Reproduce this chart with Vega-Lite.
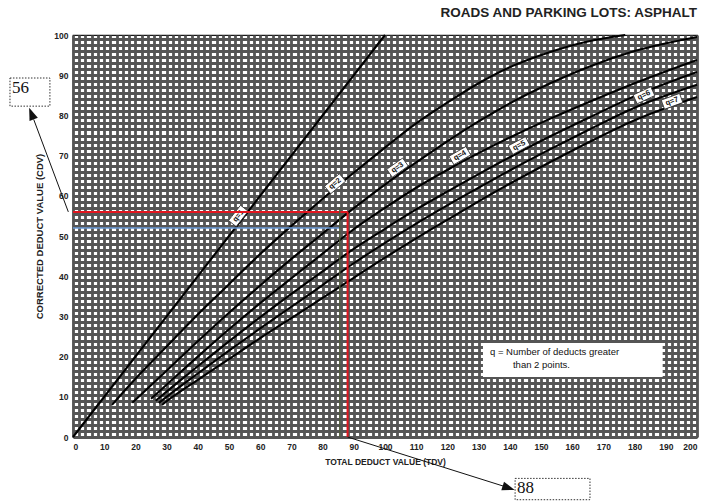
{
  "$schema": "https://vega.github.io/schema/vega-lite/v6.json",
  "width": 624,
  "height": 402,
  "autosize": {"type": "none"},
  "padding": {"left": 73, "top": 35, "right": 4, "bottom": 64},
  "background": "white",
  "config": {"view": {"stroke": "#1a1a1a", "strokeWidth": 1.2}, "font": "Liberation Sans"},
  "title": {"text": "ROADS AND PARKING LOTS:  ASPHALT", "anchor": "end", "frame": "group", "fontSize": 13.5, "fontWeight": "bold", "color": "#222", "offset": 11, "font": "Liberation Sans"},
  "datasets": {
    "curves": [
      {"q": "q=1", "tdv": 0, "cdv": 0}, {"q": "q=1", "tdv": 100, "cdv": 100},
      {"q": "q=2", "tdv": 12.5, "cdv": 8}, {"q": "q=2", "tdv": 20, "cdv": 14.5}, {"q": "q=2", "tdv": 30, "cdv": 22.5}, {"q": "q=2", "tdv": 40, "cdv": 30.5}, {"q": "q=2", "tdv": 50, "cdv": 38}, {"q": "q=2", "tdv": 60, "cdv": 45.5}, {"q": "q=2", "tdv": 74.4, "cdv": 55.5}, {"q": "q=2", "tdv": 88.8, "cdv": 65}, {"q": "q=2", "tdv": 100, "cdv": 72}, {"q": "q=2", "tdv": 110, "cdv": 78}, {"q": "q=2", "tdv": 120.8, "cdv": 83.6}, {"q": "q=2", "tdv": 130, "cdv": 88}, {"q": "q=2", "tdv": 140, "cdv": 92}, {"q": "q=2", "tdv": 153, "cdv": 95.8}, {"q": "q=2", "tdv": 165, "cdv": 98.4}, {"q": "q=2", "tdv": 177, "cdv": 100},
      {"q": "q=3", "tdv": 19, "cdv": 8.5}, {"q": "q=3", "tdv": 30, "cdv": 16.5}, {"q": "q=3", "tdv": 40, "cdv": 23.8}, {"q": "q=3", "tdv": 50, "cdv": 30.9}, {"q": "q=3", "tdv": 60, "cdv": 37.7}, {"q": "q=3", "tdv": 70, "cdv": 44.3}, {"q": "q=3", "tdv": 80, "cdv": 50.6}, {"q": "q=3", "tdv": 88, "cdv": 55.7}, {"q": "q=3", "tdv": 100, "cdv": 62.8}, {"q": "q=3", "tdv": 110, "cdv": 68.3}, {"q": "q=3", "tdv": 120.8, "cdv": 74}, {"q": "q=3", "tdv": 130, "cdv": 78.5}, {"q": "q=3", "tdv": 140, "cdv": 83}, {"q": "q=3", "tdv": 153, "cdv": 88}, {"q": "q=3", "tdv": 165, "cdv": 92}, {"q": "q=3", "tdv": 180, "cdv": 96}, {"q": "q=3", "tdv": 200, "cdv": 99.5},
      {"q": "q=4", "tdv": 25, "cdv": 9.5}, {"q": "q=4", "tdv": 30, "cdv": 13}, {"q": "q=4", "tdv": 40, "cdv": 20}, {"q": "q=4", "tdv": 50, "cdv": 26.8}, {"q": "q=4", "tdv": 60, "cdv": 33.3}, {"q": "q=4", "tdv": 70, "cdv": 39.5}, {"q": "q=4", "tdv": 80, "cdv": 45.6}, {"q": "q=4", "tdv": 88.8, "cdv": 51}, {"q": "q=4", "tdv": 100, "cdv": 57}, {"q": "q=4", "tdv": 110, "cdv": 62}, {"q": "q=4", "tdv": 120.8, "cdv": 66.8}, {"q": "q=4", "tdv": 130, "cdv": 70.6}, {"q": "q=4", "tdv": 140, "cdv": 74.5}, {"q": "q=4", "tdv": 153, "cdv": 79.2}, {"q": "q=4", "tdv": 165, "cdv": 83.2}, {"q": "q=4", "tdv": 180, "cdv": 88}, {"q": "q=4", "tdv": 200, "cdv": 93.8},
      {"q": "q=5", "tdv": 26.5, "cdv": 9}, {"q": "q=5", "tdv": 30, "cdv": 11.3}, {"q": "q=5", "tdv": 40, "cdv": 17.6}, {"q": "q=5", "tdv": 50, "cdv": 23.8}, {"q": "q=5", "tdv": 60, "cdv": 29.8}, {"q": "q=5", "tdv": 70, "cdv": 35.6}, {"q": "q=5", "tdv": 80, "cdv": 41.2}, {"q": "q=5", "tdv": 88.8, "cdv": 46.2}, {"q": "q=5", "tdv": 100, "cdv": 51.8}, {"q": "q=5", "tdv": 110, "cdv": 56.6}, {"q": "q=5", "tdv": 120.8, "cdv": 61.4}, {"q": "q=5", "tdv": 130, "cdv": 65.4}, {"q": "q=5", "tdv": 140, "cdv": 69.6}, {"q": "q=5", "tdv": 153, "cdv": 74.8}, {"q": "q=5", "tdv": 165, "cdv": 79.3}, {"q": "q=5", "tdv": 180, "cdv": 84.8}, {"q": "q=5", "tdv": 200, "cdv": 90.8},
      {"q": "q=6", "tdv": 27.5, "cdv": 8.5}, {"q": "q=6", "tdv": 30, "cdv": 10}, {"q": "q=6", "tdv": 40, "cdv": 15.8}, {"q": "q=6", "tdv": 50, "cdv": 21.5}, {"q": "q=6", "tdv": 60, "cdv": 27}, {"q": "q=6", "tdv": 70, "cdv": 32.4}, {"q": "q=6", "tdv": 80, "cdv": 37.8}, {"q": "q=6", "tdv": 88.8, "cdv": 42.6}, {"q": "q=6", "tdv": 100, "cdv": 48.3}, {"q": "q=6", "tdv": 110, "cdv": 53.1}, {"q": "q=6", "tdv": 120.8, "cdv": 58}, {"q": "q=6", "tdv": 130, "cdv": 62}, {"q": "q=6", "tdv": 140, "cdv": 66.3}, {"q": "q=6", "tdv": 153, "cdv": 71.6}, {"q": "q=6", "tdv": 165, "cdv": 76.3}, {"q": "q=6", "tdv": 180, "cdv": 81.9}, {"q": "q=6", "tdv": 200, "cdv": 87.6},
      {"q": "q=7", "tdv": 28.5, "cdv": 8}, {"q": "q=7", "tdv": 30, "cdv": 8.9}, {"q": "q=7", "tdv": 40, "cdv": 14.2}, {"q": "q=7", "tdv": 50, "cdv": 19.4}, {"q": "q=7", "tdv": 60, "cdv": 24.6}, {"q": "q=7", "tdv": 70, "cdv": 29.6}, {"q": "q=7", "tdv": 80, "cdv": 34.6}, {"q": "q=7", "tdv": 88.8, "cdv": 39}, {"q": "q=7", "tdv": 100, "cdv": 44.6}, {"q": "q=7", "tdv": 110, "cdv": 49.4}, {"q": "q=7", "tdv": 120.8, "cdv": 54.4}, {"q": "q=7", "tdv": 130, "cdv": 58.6}, {"q": "q=7", "tdv": 140, "cdv": 63}, {"q": "q=7", "tdv": 153, "cdv": 68.4}, {"q": "q=7", "tdv": 165, "cdv": 73.2}, {"q": "q=7", "tdv": 180, "cdv": 78.8}, {"q": "q=7", "tdv": 200, "cdv": 84.6}
    ],
    "labels": [
      {"q": "q=1", "n": 1, "tdv": 53, "cdv": 55},
      {"q": "q=2", "n": 2, "tdv": 84, "cdv": 63},
      {"q": "q=3", "n": 3, "tdv": 104, "cdv": 67},
      {"q": "q=4", "n": 4, "tdv": 124, "cdv": 70},
      {"q": "q=5", "n": 5, "tdv": 143, "cdv": 72.5},
      {"q": "q=6", "n": 6, "tdv": 183, "cdv": 85},
      {"q": "q=7", "n": 7, "tdv": 192, "cdv": 83.5}
    ],
    "readlines": [
      {"line": "red", "tdv": 0, "tdv2": 88, "cdv": 56, "cdv2": 56},
      {"line": "red", "tdv": 88, "tdv2": 88, "cdv": 56, "cdv2": 0},
      {"line": "blue", "tdv": 0, "tdv2": 85.5, "cdv": 52, "cdv2": 52},
      {"line": "thin", "tdv": 85.5, "tdv2": 85.5, "cdv": 0, "cdv2": 57},
      {"line": "arrow", "tdv": -1.5, "tdv2": -12.6, "cdv": 56, "cdv2": 79},
      {"line": "arrow", "tdv": 88, "tdv2": 139.5, "cdv": 0, "cdv2": -12.6}
    ],
    "heads": [
      {"end": "cdv", "tdv": -13.2, "cdv": 80.2},
      {"end": "tdv", "tdv": 139.3, "cdv": -12.6}
    ],
    "boxes": [
      {"value": "56", "tdv": -20.2, "tdv2": -7.4, "cdv": 89.3, "cdv2": 82.3},
      {"value": "88", "tdv": 141.7, "tdv2": 165.7, "cdv": -10.3, "cdv2": -15.6}
    ],
    "note": [{"line1": "q = Number of deducts greater", "line2": "than 2 points.", "tdv": 131.4, "tdv2": 189, "cdv": 23.4, "cdv2": 14.9}]
  },
  "resolve": {"axis": {"x": "independent", "y": "independent"}},
  "layer": [
    {
      "data": {"name": "curves"},
      "mark": {"type": "point", "opacity": 0},
      "encoding": {
        "x": {"field": "tdv", "type": "quantitative", "scale": {"domain": [0, 200], "nice": false, "zero": false},
          "axis": {"values": [0,2,4,6,8,10,12,14,16,18,20,22,24,26,28,30,32,34,36,38,40,42,44,46,48,50,52,54,56,58,60,62,64,66,68,70,72,74,76,78,80,82,84,86,88,90,92,94,96,98,100,102,104,106,108,110,112,114,116,118,120,122,124,126,128,130,132,134,136,138,140,142,144,146,148,150,152,154,156,158,160,162,164,166,168,170,172,174,176,178,180,182,184,186,188,190,192,194,196,198,200],
            "grid": true, "gridColor": "#555555", "gridWidth": 2.8, "ticks": false, "domain": false,
            "labelExpr": "datum.value % 10 === 0 ? datum.label : ''", "labelOverlap": false,
            "labelFontSize": 8.5, "labelFontWeight": "bold", "labelColor": "#222", "labelPadding": 5, "labelFont": "Liberation Sans",
            "title": "TOTAL DEDUCT VALUE (TDV)", "titleFontSize": 8.5, "titleFontWeight": "bold", "titleColor": "#222", "titlePadding": 7, "titleFont": "Liberation Sans"}},
        "y": {"field": "cdv", "type": "quantitative", "scale": {"domain": [0, 100], "nice": false, "zero": false},
          "axis": {"orient": "right", "values": [0,1.5,3,4.5,6,7.5,9,10.5,12,13.5,15,16.5,18,19.5,21,22.5,24,25.5,27,28.5,30,31.5,33,34.5,36,37.5,39,40.5,42,43.5,45,46.5,48,49.5,51,52.5,54,55.5,57,58.5,60,61.5,63,64.5,66,67.5,69,70.5,72,73.5,75,76.5,78,79.5,81,82.5,84,85.5,87,88.5,90,91.5,93,94.5,96,97.5,99],
            "grid": true, "gridColor": "#555555", "gridWidth": 2.8, "ticks": false, "domain": false, "labels": false, "title": null}}
      }
    },
    {
      "data": {"name": "curves"},
      "mark": {"type": "point", "opacity": 0},
      "encoding": {
        "x": {"field": "tdv", "type": "quantitative", "scale": {"domain": [0, 200], "nice": false, "zero": false}, "axis": null},
        "y": {"field": "cdv", "type": "quantitative", "scale": {"domain": [0, 100], "nice": false, "zero": false},
          "axis": {"orient": "left", "values": [0,10,20,30,40,50,60,70,80,90,100], "grid": false, "ticks": false, "domain": false,
            "labelFontSize": 8.5, "labelFontWeight": "bold", "labelColor": "#222", "labelPadding": 5, "labelFont": "Liberation Sans",
            "title": "CORRECTED DEDUCT VALUE (CDV)", "titleFontSize": 9.5, "titleFontWeight": "bold", "titleColor": "#222", "titlePadding": 9, "titleFont": "Liberation Sans"}}
      }
    },
    {
      "data": {"name": "curves"},
      "mark": {"type": "line", "color": "#000", "strokeWidth": 2.1, "interpolate": "monotone"},
      "encoding": {
        "x": {"field": "tdv", "type": "quantitative", "scale": {"domain": [0, 200], "nice": false, "zero": false}, "axis": null},
        "y": {"field": "cdv", "type": "quantitative", "scale": {"domain": [0, 100], "nice": false, "zero": false}, "axis": null},
        "detail": {"field": "q", "type": "nominal"}
      }
    },
    {
      "data": {"name": "labels"},
      "mark": {"type": "point", "shape": "M-1,-0.5L1,-0.5L1,0.5L-1,0.5Z", "filled": true, "fill": "white", "stroke": "#333", "strokeWidth": 0.8, "size": 380, "opacity": 1},
      "encoding": {
        "x": {"field": "tdv", "type": "quantitative", "scale": {"domain": [0, 200], "nice": false, "zero": false}, "axis": null},
        "y": {"field": "cdv", "type": "quantitative", "scale": {"domain": [0, 100], "nice": false, "zero": false}, "axis": null},
        "angle": {"field": "n", "type": "quantitative", "scale": {"domain": [1,2,3,4,5,6,7], "range": [308,320,325,330,332,335,340]}, "legend": null}
      }
    },
    {
      "data": {"name": "labels"},
      "mark": {"type": "text", "fontSize": 7.5, "fontWeight": "bold", "color": "#111", "font": "Liberation Sans", "baseline": "middle", "align": "center"},
      "encoding": {
        "x": {"field": "tdv", "type": "quantitative", "scale": {"domain": [0, 200], "nice": false, "zero": false}, "axis": null},
        "y": {"field": "cdv", "type": "quantitative", "scale": {"domain": [0, 100], "nice": false, "zero": false}, "axis": null},
        "text": {"field": "q"},
        "angle": {"field": "n", "type": "quantitative", "scale": {"domain": [1,2,3,4,5,6,7], "range": [308,320,325,330,332,335,340]}, "legend": null}
      }
    },
    {
      "data": {"name": "readlines"},
      "mark": {"type": "rule"},
      "encoding": {
        "x": {"field": "tdv", "type": "quantitative", "scale": {"domain": [0, 200], "nice": false, "zero": false}, "axis": null},
        "x2": {"field": "tdv2"},
        "y": {"field": "cdv", "type": "quantitative", "scale": {"domain": [0, 100], "nice": false, "zero": false}, "axis": null},
        "y2": {"field": "cdv2"},
        "color": {"field": "line", "type": "nominal", "scale": {"domain": ["red", "blue", "thin", "arrow"], "range": ["#e3161f", "#6a9ad6", "#4f5a3c", "#111111"]}, "legend": null},
        "strokeWidth": {"field": "line", "type": "nominal", "scale": {"domain": ["red", "blue", "thin", "arrow"], "range": [2, 1, 1, 1.8]}, "legend": null}
      }
    },
    {
      "data": {"name": "heads"},
      "transform": [{"filter": "datum.end === 'cdv'"}],
      "mark": {"type": "point", "shape": "M0,-1L0.6,0.7L-0.6,0.7Z", "filled": true, "color": "#111", "opacity": 1, "size": 220, "angle": 339},
      "encoding": {
        "x": {"field": "tdv", "type": "quantitative", "scale": {"domain": [0, 200], "nice": false, "zero": false}, "axis": null},
        "y": {"field": "cdv", "type": "quantitative", "scale": {"domain": [0, 100], "nice": false, "zero": false}, "axis": null}
      }
    },
    {
      "data": {"name": "heads"},
      "transform": [{"filter": "datum.end === 'tdv'"}],
      "mark": {"type": "point", "shape": "M0,-1L0.6,0.7L-0.6,0.7Z", "filled": true, "color": "#111", "opacity": 1, "size": 220, "angle": 107.5},
      "encoding": {
        "x": {"field": "tdv", "type": "quantitative", "scale": {"domain": [0, 200], "nice": false, "zero": false}, "axis": null},
        "y": {"field": "cdv", "type": "quantitative", "scale": {"domain": [0, 100], "nice": false, "zero": false}, "axis": null}
      }
    },
    {
      "data": {"name": "boxes"},
      "mark": {"type": "rect", "fill": "white", "stroke": "#333", "strokeWidth": 1, "strokeDash": [1.5, 1.5]},
      "encoding": {
        "x": {"field": "tdv", "type": "quantitative", "scale": {"domain": [0, 200], "nice": false, "zero": false}, "axis": null},
        "x2": {"field": "tdv2"},
        "y": {"field": "cdv", "type": "quantitative", "scale": {"domain": [0, 100], "nice": false, "zero": false}, "axis": null},
        "y2": {"field": "cdv2"}
      }
    },
    {
      "data": {"name": "boxes"},
      "mark": {"type": "text", "font": "Liberation Serif", "fontSize": 17, "color": "#111", "align": "left", "baseline": "top", "dx": 2, "dy": 2},
      "encoding": {
        "x": {"field": "tdv", "type": "quantitative", "scale": {"domain": [0, 200], "nice": false, "zero": false}, "axis": null},
        "y": {"field": "cdv", "type": "quantitative", "scale": {"domain": [0, 100], "nice": false, "zero": false}, "axis": null},
        "text": {"field": "value"}
      }
    },
    {
      "data": {"name": "note"},
      "mark": {"type": "rect", "fill": "white"},
      "encoding": {
        "x": {"field": "tdv", "type": "quantitative", "scale": {"domain": [0, 200], "nice": false, "zero": false}, "axis": null},
        "x2": {"field": "tdv2"},
        "y": {"field": "cdv", "type": "quantitative", "scale": {"domain": [0, 100], "nice": false, "zero": false}, "axis": null},
        "y2": {"field": "cdv2"}
      }
    },
    {
      "data": {"name": "note"},
      "mark": {"type": "text", "fontSize": 9.5, "color": "#111", "align": "left", "baseline": "middle", "font": "Liberation Sans", "dx": 7, "dy": 9},
      "encoding": {
        "x": {"field": "tdv", "type": "quantitative", "scale": {"domain": [0, 200], "nice": false, "zero": false}, "axis": null},
        "y": {"field": "cdv", "type": "quantitative", "scale": {"domain": [0, 100], "nice": false, "zero": false}, "axis": null},
        "text": {"field": "line1"}
      }
    },
    {
      "data": {"name": "note"},
      "mark": {"type": "text", "fontSize": 9.5, "color": "#111", "align": "left", "baseline": "middle", "font": "Liberation Sans", "dx": 30, "dy": 22},
      "encoding": {
        "x": {"field": "tdv", "type": "quantitative", "scale": {"domain": [0, 200], "nice": false, "zero": false}, "axis": null},
        "y": {"field": "cdv", "type": "quantitative", "scale": {"domain": [0, 100], "nice": false, "zero": false}, "axis": null},
        "text": {"field": "line2"}
      }
    }
  ]
}
